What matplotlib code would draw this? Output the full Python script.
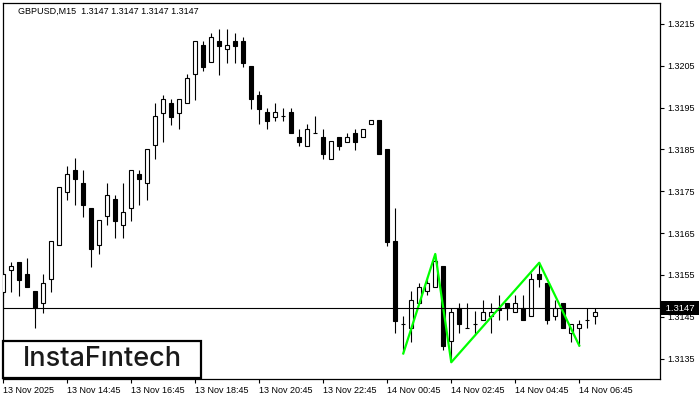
import numpy as np
import matplotlib
matplotlib.use('Agg')
import matplotlib.pyplot as plt
import matplotlib.transforms as mtransforms
from matplotlib.patches import Rectangle

# GBPUSD M15 candles, 13 Nov 12:45 .. 14 Nov 07:15
title = 'GBPUSD,M15  1.3147 1.3147 1.3147 1.3147'
last_price = 1.3147

opens = [1.31510, 1.31561, 1.31580, 1.31551, 1.31511, 1.31482, 1.31539, 1.31621,
         1.31749, 1.31800, 1.31769, 1.31709, 1.31621, 1.31690, 1.31731, 1.31670,
         1.31709, 1.31791, 1.31769, 1.31860, 1.31938, 1.31960, 1.31938, 1.31960,
         1.32030, 1.32100, 1.32058, 1.32109, 1.32089, 1.32109, 1.32109, 1.32049,
         1.31979, 1.31939, 1.31928, 1.31930, 1.31939, 1.31880, 1.31859, 1.31889,
         1.31880, 1.31828, 1.31880, 1.31868, 1.31889, 1.31879, 1.31910, 1.31920,
         1.31850, 1.31630, 1.31432, 1.31422, 1.31482, 1.31511, 1.31520, 1.31571,
         1.31391, 1.31470, 1.31422, 1.31432, 1.31441, 1.31451, 1.31471, 1.31482,
         1.31460, 1.31470, 1.31451, 1.31552, 1.31530, 1.31451, 1.31482, 1.31410,
         1.31422, 1.31441, 1.31451]
highs = [1.31557, 1.31581, 1.31581, 1.31590, 1.31511, 1.31551, 1.31630, 1.31759,
         1.31810, 1.31829, 1.31800, 1.31709, 1.31680, 1.31769, 1.31740, 1.31769,
         1.31800, 1.31800, 1.31850, 1.31960, 1.31979, 1.31970, 1.31970, 1.32030,
         1.32109, 1.32109, 1.32128, 1.32138, 1.32138, 1.32128, 1.32118, 1.32049,
         1.31990, 1.31948, 1.31960, 1.31949, 1.31949, 1.31899, 1.31911, 1.31930,
         1.31899, 1.31869, 1.31880, 1.31889, 1.31899, 1.31899, 1.31920, 1.31920,
         1.31850, 1.31710, 1.31451, 1.31511, 1.31531, 1.31545, 1.31600, 1.31571,
         1.31470, 1.31482, 1.31482, 1.31463, 1.31491, 1.31482, 1.31501, 1.31482,
         1.31501, 1.31501, 1.31554, 1.31579, 1.31530, 1.31491, 1.31482, 1.31432,
         1.31441, 1.31470, 1.31470]
lows = [1.31499, 1.31510, 1.31500, 1.31520, 1.31422, 1.31459, 1.31510, 1.31621,
        1.31729, 1.31717, 1.31689, 1.31569, 1.31600, 1.31670, 1.31639, 1.31639,
        1.31679, 1.31718, 1.31729, 1.31828, 1.31868, 1.31909, 1.31898, 1.31960,
        1.31968, 1.32038, 1.32058, 1.32029, 1.32057, 1.32057, 1.32048, 1.31947,
        1.31910, 1.31898, 1.31919, 1.31919, 1.31888, 1.31859, 1.31859, 1.31889,
        1.31828, 1.31828, 1.31849, 1.31868, 1.31849, 1.31879, 1.31910, 1.31840,
        1.31620, 1.31410, 1.31362, 1.31390, 1.31482, 1.31501, 1.31520, 1.31370,
        1.31341, 1.31410, 1.31422, 1.31406, 1.31441, 1.31410, 1.31441, 1.31441,
        1.31460, 1.31441, 1.31451, 1.31520, 1.31432, 1.31441, 1.31422, 1.31390,
        1.31381, 1.31422, 1.31432]
closes = [1.31552, 1.31570, 1.31538, 1.31520, 1.31470, 1.31530, 1.31630, 1.31759,
          1.31790, 1.31780, 1.31718, 1.31611, 1.31680, 1.31740, 1.31679, 1.31700,
          1.31800, 1.31780, 1.31850, 1.31929, 1.31970, 1.31928, 1.31970, 1.32020,
          1.32109, 1.32048, 1.32118, 1.32098, 1.32099, 1.32098, 1.32057, 1.31970,
          1.31947, 1.31919, 1.31939, 1.31930, 1.31888, 1.31868, 1.31899, 1.31889,
          1.31840, 1.31869, 1.31859, 1.31880, 1.31868, 1.31899, 1.31920, 1.31840,
          1.31629, 1.31440, 1.31432, 1.31491, 1.31520, 1.31530, 1.31582, 1.31381,
          1.31460, 1.31432, 1.31422, 1.31432, 1.31460, 1.31460, 1.31465, 1.31471,
          1.31482, 1.31441, 1.31539, 1.31539, 1.31441, 1.31470, 1.31422, 1.31432,
          1.31432, 1.31441, 1.31460]

time_labels = ['13 Nov 2025', '13 Nov 14:45', '13 Nov 16:45', '13 Nov 18:45',
               '13 Nov 20:45', '13 Nov 22:45', '14 Nov 00:45', '14 Nov 02:45',
               '14 Nov 04:45', '14 Nov 06:45']
price_ticks = [1.3135, 1.3145, 1.3155, 1.3165, 1.3175, 1.3185, 1.3195, 1.3205, 1.3215]

# triple bottom pattern (bar index, price)
pattern_bars = [50, 54, 56, 67, 72]
pattern_prices = [1.31362, 1.31600, 1.31341, 1.31579, 1.31381]

plt.rcParams['font.family'] = ['Liberation Sans', 'DejaVu Sans']

fig = plt.figure(figsize=(7, 4), dpi=100)
ax = fig.add_axes([3 / 700, 21 / 400, 657 / 700, 376 / 400])

o = np.array(opens)
h = np.array(highs)
l = np.array(lows)
c = np.array(closes)
x = np.arange(len(o))
up = c >= o

ax.vlines(x, l, h, color='black', linewidth=0.8, zorder=2)
ax.bar(x[up], (c - o)[up], bottom=o[up], width=0.5, facecolor='white',
       edgecolor='black', linewidth=0.8, zorder=3)
ax.bar(x[~up], (o - c)[~up], bottom=c[~up], width=0.5, facecolor='black',
       edgecolor='black', linewidth=0.8, zorder=3)

ax.plot(pattern_bars, pattern_prices, color='#00ff00', linewidth=1.6, zorder=4)
ax.axhline(last_price, color='black', linewidth=0.8, zorder=5)

ax.set_xlim(-0.05, 82.1)
ax.set_ylim(1.31301, 1.32200)

ax.yaxis.tick_right()
ax.set_yticks(price_ticks)
ax.set_yticklabels([f'{p:.4f}' for p in price_ticks])
ax.set_xticks(range(0, 8 * len(time_labels), 8))
ax.set_xticklabels(time_labels, ha='left')
ax.tick_params(axis='both', direction='out', length=3, width=0.8,
               labelsize=6.5, pad=2, colors='black')
for s in ax.spines.values():
    s.set_linewidth(0.9)

ax.text(15 / 657, 0.979, title, transform=ax.transAxes, fontsize=6.5,
        va='center', ha='left')

trans = mtransforms.blended_transform_factory(ax.transAxes, ax.transData)
ax.text(1.004, last_price, ' 1.3147 ', transform=trans, fontsize=6.8,
        color='white', va='center', ha='left', clip_on=False, zorder=10,
        bbox=dict(boxstyle='square,pad=0.25', facecolor='black', edgecolor='none'))

# logo box
fig.add_artist(Rectangle((3 / 700, 22 / 400), 198 / 700, 37 / 400,
                         transform=fig.transFigure, facecolor='white',
                         edgecolor='black', linewidth=1.6, zorder=20))
fig.text(102 / 700, 41 / 400, 'InstaF\u0131ntech', fontsize=19.5, family='Inter',
         fontweight='medium', color='#1a1a1a', ha='center', va='center', zorder=21)

fig.savefig('out.png', dpi=100)
